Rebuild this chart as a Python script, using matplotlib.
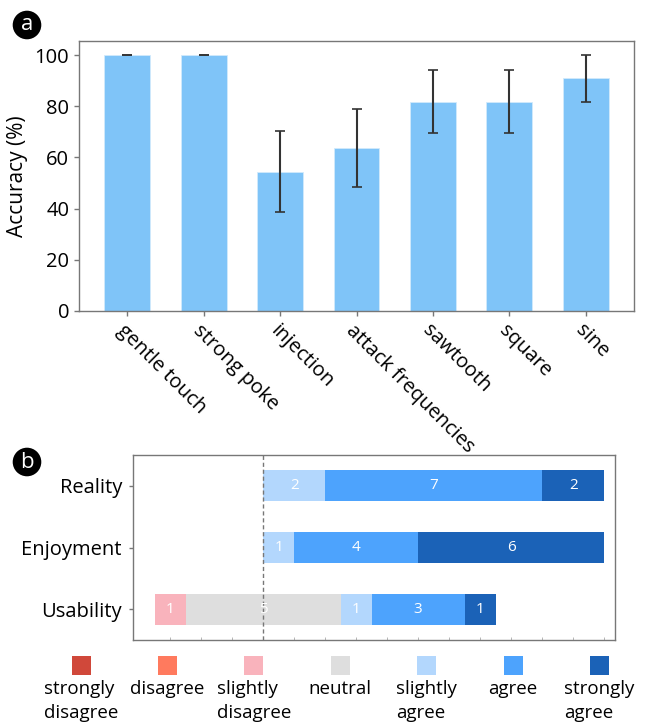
import numpy as np
import matplotlib
matplotlib.use('Agg')
import matplotlib.pyplot as plt
from matplotlib.patches import Circle, Rectangle

plt.rcParams['font.family'] = ['Open Sans', 'DejaVu Sans']

# panel a: recognition accuracy per stimulus
tasks = ['gentle touch', 'strong poke', 'injection', 'attack frequencies',
         'sawtooth', 'square', 'sine']
accuracy = [100.0, 100.0, 54.5, 63.6, 81.8, 81.8, 90.9]
accuracy_err = [0.0, 0.0, 15.7, 15.2, 12.2, 12.2, 9.1]

# panel b: likert answers (counts per level)
questions = ['Reality', 'Enjoyment', 'Usability']
levels = ['strongly\ndisagree', 'disagree', 'slightly\ndisagree', 'neutral',
          'slightly\nagree', 'agree', 'strongly\nagree']
level_colors = ['#d0483a', '#ff7a5e', '#f9b3bc', '#dedede',
                '#b3d7fd', '#4da3fd', '#1b62b7']
reality_counts = [0, 0, 0, 0, 2, 7, 2]
enjoyment_counts = [0, 0, 0, 0, 1, 4, 6]
usability_counts = [0, 0, 1, 5, 1, 3, 1]

BAR_COLOR = '#7fc4f8'
SPINE_COLOR = '#777777'

W, H = 645, 728
fig = plt.figure(figsize=(W / 100, H / 100), dpi=100)


def style_spines(ax):
    for sp in ax.spines.values():
        sp.set_color(SPINE_COLOR)
        sp.set_linewidth(1.0)


def panel_letter(letter, x_px, y_px):
    fig.add_artist(Circle((x_px / 100, (H - y_px) / 100), 0.143,
                          transform=fig.dpi_scale_trans,
                          facecolor='black', edgecolor='none'))
    fig.text(x_px / W, 1 - y_px / H, letter, color='white', fontsize=16,
             ha='center', va='center')


# ---- panel a
ax_a = fig.add_axes([79 / W, 1 - 311 / H, 555 / W, 270 / H])
x = np.arange(len(tasks))
ax_a.bar(x, accuracy, width=0.6, color=BAR_COLOR, edgecolor='#d2eafc',
         linewidth=0.6, yerr=accuracy_err, capsize=3.5,
         error_kw=dict(ecolor='#333333', elinewidth=1.5, capthick=1.2))
ax_a.set_xlim(-0.63, len(tasks) - 0.37)
ax_a.set_ylim(0, 105.5)
ax_a.set_yticks(np.arange(0, 101, 20))
ax_a.set_xticks(x)
ax_a.set_xticklabels(tasks, rotation=-45, ha='left', va='top',
                     rotation_mode='anchor')
ax_a.set_ylabel('Accuracy (%)', fontsize=15, labelpad=5)
ax_a.tick_params(axis='both', labelsize=14.5, color=SPINE_COLOR, length=3.5,
                 width=1)
style_spines(ax_a)
panel_letter('a', 27, 25)

# ---- panel b: diverging stacked bars centred on neutral
ax_b = fig.add_axes([133 / W, 1 - 640 / H, 482 / W, 185 / H])
counts = np.array([reality_counts, enjoyment_counts, usability_counts], float)
left_half = counts[:, :3].sum(axis=1) + counts[:, 3] / 2.0
centre = left_half.max()
starts = centre - left_half
y = np.arange(len(questions))
for row in range(len(questions)):
    left = starts[row]
    for lvl in range(len(levels)):
        n = counts[row, lvl]
        if n > 0:
            ax_b.barh(y[row], n, left=left, height=0.5,
                      color=level_colors[lvl], edgecolor='none')
            ax_b.text(left + n / 2, y[row], '%d' % n, color='white',
                      fontsize=11, ha='center', va='center')
        left += n
ax_b.axvline(centre, color='#777777', ls='--', lw=1, dashes=(3, 2))
ax_b.set_xlim(-0.7, 14.85)
ax_b.set_ylim(2.5, -0.5)
ax_b.set_yticks(y)
ax_b.set_yticklabels(questions)
ax_b.set_xticks(np.arange(0.5, 15, 1))
ax_b.set_xticklabels([])
ax_b.tick_params(axis='y', labelsize=14.5, color=SPINE_COLOR, length=3,
                 width=1, pad=5)
ax_b.tick_params(axis='x', direction='in', color='#aaaaaa', length=2,
                 width=0.6)
style_spines(ax_b)
panel_letter('b', 27, 462)

# ---- legend row beneath panel b
ax_leg = fig.add_axes([0, 0, 1, 1])
ax_leg.set_xlim(0, W)
ax_leg.set_ylim(H, 0)
ax_leg.axis('off')
for i, (lab, col) in enumerate(zip(levels, level_colors)):
    cx = 81 + 86.4 * i
    ax_leg.add_patch(Rectangle((cx - 9.5, 656), 19, 19, facecolor=col,
                               edgecolor='none'))
    ax_leg.text(cx, 680, lab, fontsize=13.5, ha='center', va='top',
                multialignment='left', linespacing=1.4)

fig.savefig('out.png', dpi=100)
